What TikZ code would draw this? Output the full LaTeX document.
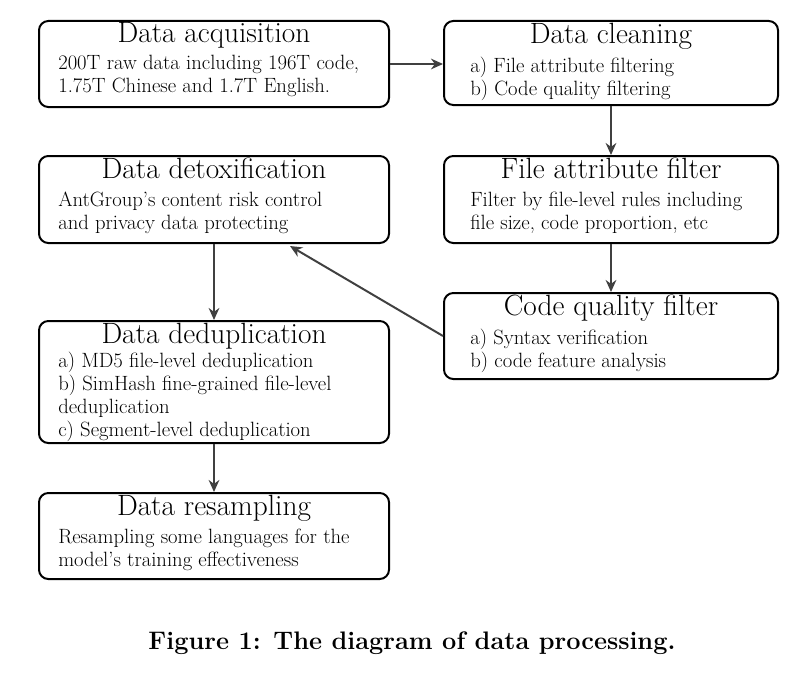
\documentclass[tikz,border=0pt]{standalone}
\usetikzlibrary{arrows.meta}
\begin{document}
\begin{tikzpicture}[x=0.75pt,y=-0.75pt,
 box/.style={draw,line width=1.5pt,rounded corners=7pt,inner sep=0pt},
 ttl/.style={font=\fontsize{22}{24}\selectfont,anchor=north,inner sep=0pt},
 body/.style={font=\fontsize{15.5}{17.3}\selectfont,anchor=north west,align=left,inner sep=0pt},
 arr/.style={draw=black!75,line width=1.5pt,-{Stealth[length=9pt,width=8pt]}}]
\useasboundingbox (0,0) rectangle (810,674);
\newcommand{\bx}[6]{\node[box,minimum width=#4*0.75pt,minimum height=#5*0.75pt,anchor=north west] (#1) at (#2,#3) {};
 \node[ttl] (#1t) at ([yshift=-2pt]#1.north) {#6};}
\bx{acq}{38}{20}{350}{86}{Data acquisition}
\node[body] (acqb) at (58,55) {200T raw data including 196T code,\\1.75T Chinese and 1.7T English.};
\bx{cln}{443}{20}{334}{84}{Data cleaning}
\node[body] (clnb) at (470,57) {a)\ File attribute filtering\\b)\ Code quality filtering};
\bx{det}{38}{155}{350}{87}{Data detoxification}
\node[body] (detb) at (58,192) {AntGroup's content risk control\\and privacy data protecting};
\bx{fat}{443}{155}{334}{87}{File attribute filter}
\node[body] (fatb) at (470,192) {Filter by file-level rules including\\file size, code proportion, etc};
\bx{cqf}{443}{292}{334}{86}{Code quality filter}
\node[body] (cqfb) at (470,329) {a)\ Syntax verification\\b)\ code feature analysis};
\bx{ded}{38}{320}{350}{122}{Data deduplication}
\node[body] (dedb) at (58,352) {a)\ MD5 file-level deduplication\\b)\ SimHash fine-grained file-level\\deduplication\\c)\ Segment-level deduplication};
\bx{res}{38}{492}{350}{86}{Data resampling}
\node[body] (resb) at (58,529) {Resampling some languages for the\\model's training effectiveness};
\node[font=\bfseries\fontsize{19}{21}\selectfont] (cap) at (412,643) {Figure 1: The diagram of data processing.};
\coordinate (dt) at (290,246);
\draw[arr] (acq.east) -- (cln.west |- acq.east);
\draw[arr] (cln.south) -- (fat.north);
\draw[arr] (fat.south) -- (cqf.north);
\draw[arr] (cqf.west) -- (dt);
\draw[arr] (det.south) -- (ded.north);
\draw[arr] (ded.south) -- (res.north);
\end{tikzpicture}
\end{document}
